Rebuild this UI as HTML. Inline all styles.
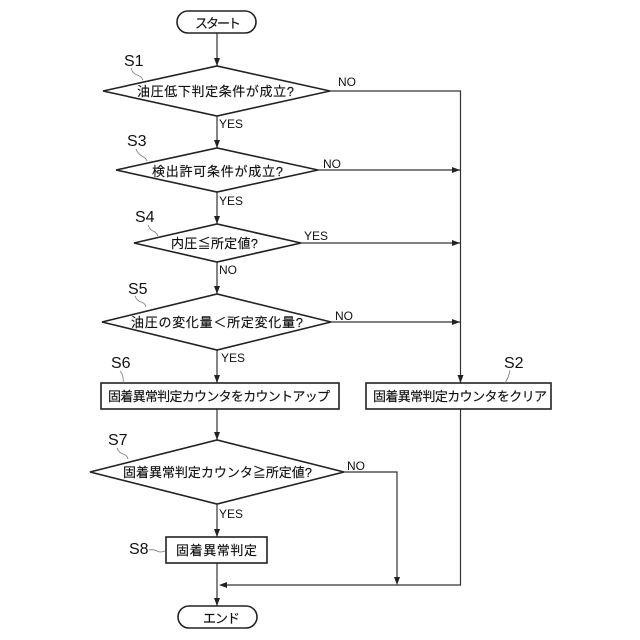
<!DOCTYPE html>
<html><head><meta charset="utf-8"><style>
html,body{margin:0;padding:0;background:#fff}
svg{display:block}
text{font-family:"Liberation Sans","Noto Sans CJK JP",sans-serif;fill:#111}
.j{font-size:13px;stroke:#111;stroke-width:.15}
.l{font-size:12px}
.s{font-size:16px}
.b{fill:#fff;stroke:#222;stroke-width:1.6}
.c{fill:none;stroke:#333;stroke-width:1.2}
.q{fill:none;stroke:#777;stroke-width:.8}
.a{fill:#222}
</style></head><body>
<svg width="640" height="640" viewBox="0 0 640 640" xmlns="http://www.w3.org/2000/svg">
<path class="c" d="M217 33V66M217 116V148M217 192V224M217 262V294M217 350V383M217 409V440M217 504V537M217 563V606"/>
<path class="c" d="M330 91H460.500V383M318 170H460M301 243H460M331 322H460"/>
<path class="c" d="M344 472H397V581M460.500 409V585H222"/>
<path class="a" d="M214 58h6l-3 8zM214 140h6l-3 8zM214 216h6l-3 8zM214 286h6l-3 8zM214 375h6l-3 8zM214 432h6l-3 8zM214 529h6l-3 8zM214 598h6l-3 8zM457.500 375h6l-3 8zM394 577h6l-3 8zM452 167v6l8-3zM452 240v6l8-3zM452 319v6l8-3zM219 585l8-3v6z"/>
<rect class="b" x="177" y="11" width="79" height="22" rx="11"/>
<rect class="b" x="178" y="606" width="79" height="22" rx="11"/>
<polygon class="b" points="103,91 217,66 330,91 217,116"/>
<polygon class="b" points="116,170 217,148 318,170 217,192"/>
<polygon class="b" points="134,243 217,224 301,243 217,262"/>
<polygon class="b" points="102,322 217,294 331,322 217,350"/>
<rect class="b" x="101" y="383" width="238" height="26"/>
<rect class="b" x="366" y="383" width="185" height="26"/>
<polygon class="b" points="90,472 217,440 344,472 217,504"/>
<rect class="b" x="166" y="537" width="101" height="26"/>
<text class="j" x="195" y="28" textLength="46">スタート</text>
<text class="j" x="137" y="96" textLength="157">油圧低下判定条件が成立?</text>
<text class="j" x="152" y="176" textLength="131">検出許可条件が成立?</text>
<text class="j" x="171" y="248" textLength="87">内圧≦所定値?</text>
<text class="j" x="131" y="327" textLength="172">油圧の変化量＜所定変化量?</text>
<text class="j" x="108" y="401" textLength="222">固着異常判定カウンタをカウントアップ</text>
<text class="j" x="373" y="401" textLength="174">固着異常判定カウンタをクリア</text>
<text class="j" x="123" y="477" textLength="189">固着異常判定カウンタ≧所定値?</text>
<text class="j" x="176" y="555" textLength="81">固着異常判定</text>
<text class="j" x="203" y="623" textLength="37">エンド</text>
<text class="l" x="338" y="86">NO</text>
<text class="l" x="219" y="128">YES</text>
<text class="l" x="323" y="168">NO</text>
<text class="l" x="219" y="205">YES</text>
<text class="l" x="304" y="240">YES</text>
<text class="l" x="219" y="274">NO</text>
<text class="l" x="335" y="320">NO</text>
<text class="l" x="221" y="362">YES</text>
<text class="l" x="347" y="470">NO</text>
<text class="l" x="219" y="518">YES</text>
<text class="s" x="124" y="66">S1</text>
<text class="s" x="127" y="146">S3</text>
<text class="s" x="135" y="222">S4</text>
<text class="s" x="128" y="294">S5</text>
<text class="s" x="111" y="368">S6</text>
<text class="s" x="108" y="445">S7</text>
<text class="s" x="129" y="554">S8</text>
<text class="s" x="504" y="368">S2</text>
<path class="q" d="M131 68q2 6 6 7t6 5M136 149q2 5 6 7t5 5M148 225q2 5 5 6t5 5M135 296q2 5 6 6t5 5M120 371q4 4 3 12M117 448q2 5 6 6t5 5M149 550q5-1 8 1t8 0M510 370q-1 7-5 13"/>
</svg>
</body></html>
